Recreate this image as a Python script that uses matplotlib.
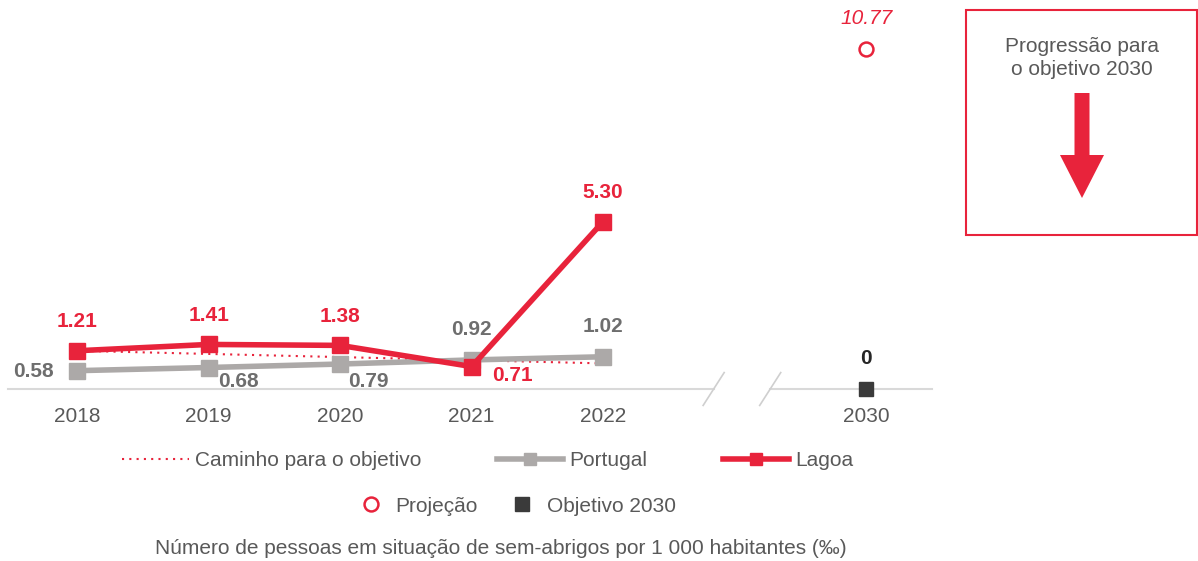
import matplotlib.pyplot as plt
from matplotlib.patches import Rectangle, FancyArrow

plt.rcParams['font.family'] = ['Liberation Sans', 'DejaVu Sans']

# data
years = ["2018", "2019", "2020", "2021", "2022"]
portugal = [0.58, 0.68, 0.79, 0.92, 1.02]
lagoa = [1.21, 1.41, 1.38, 0.71, 5.30]
caminho = [1.21, 1.11, 1.01, 0.91, 0.81]
target_year = "2030"
projecao = 10.77
objetivo = 0

RED = "#E8233B"
GREY = "#ACA9A8"
TXT = "#595959"
LBL = "#6E6E6E"
FS = 15

fig = plt.figure(figsize=(11.98, 5.61), dpi=100)
ax = fig.add_axes([8 / 1198, 1 - 389 / 561, 924 / 1198, 389 / 561])
ax.set_xlim(-0.525, 6.5)
ax.set_ylim(0, 389 / 31.6)
ax.axis("off")

x = list(range(len(years)))
x30 = 6

# baseline with axis break
ax.plot([-0.525, 4.84], [0, 0], color="#D9D9D9", lw=1.5, clip_on=False, zorder=1)
ax.plot([5.27, 6.5], [0, 0], color="#D9D9D9", lw=1.5, clip_on=False, zorder=1)
for bx in (4.84, 5.27):
    ax.plot([bx - 0.08, bx + 0.08], [-0.52, 0.52], color="#CFCFCF", lw=1.2, clip_on=False)

l_cam, = ax.plot(x, caminho, color=RED, ls=(0, (1, 2.5)), lw=1.5, zorder=2)
l_pt, = ax.plot(x, portugal, color=GREY, lw=4, marker="s", ms=11, zorder=3)
l_lg, = ax.plot(x, lagoa, color=RED, lw=4, marker="s", ms=11, zorder=4)
l_pj, = ax.plot([x30], [projecao], ls="none", marker="o", ms=10, mfc="white",
                mec=RED, mew=1.8, clip_on=False)
l_ob, = ax.plot([x30], [objetivo], ls="none", marker="s", ms=10, color="#3A3A3A",
                clip_on=False, zorder=5)

# tick labels
for xi, yr in zip(x + [x30], years + [target_year]):
    ax.annotate(yr, (xi, 0), xytext=(0, -27), textcoords="offset pixels",
                ha="center", va="center", fontsize=FS, color=TXT)

# value labels
for xi, v in zip(x, lagoa):
    off = (41, -9) if v == 0.71 else (0, 29)
    ax.annotate(f"{v:.2f}", (xi, v), xytext=off, textcoords="offset pixels",
                ha="center", va="center", fontsize=FS, fontweight="bold", color=RED)
pt_off = [(-44, -1), (30, -14), (28, -17), (0, 30), (0, 30)]
for xi, v, off in zip(x, portugal, pt_off):
    ax.annotate(f"{v:.2f}", (xi, v), xytext=off, textcoords="offset pixels",
                ha="center", va="center", fontsize=FS, fontweight="bold", color=LBL)
ax.annotate(f"{projecao:.2f}", (x30, projecao), xytext=(0, 30), textcoords="offset pixels",
            ha="center", va="center", fontsize=FS, fontstyle="italic", color=RED)
ax.annotate(f"{objetivo}", (x30, objetivo), xytext=(0, 31), textcoords="offset pixels",
            ha="center", va="center", fontsize=FS, fontweight="bold", color="#262626")

# legends
leg1 = fig.legend([l_cam, l_pt, l_lg], ["Caminho para o objetivo", "Portugal", "Lagoa"],
                  loc="center", bbox_to_anchor=(488 / 1198, 1 - 461 / 561), ncol=3,
                  frameon=False, fontsize=FS, handlelength=3.2, handletextpad=0.3,
                  columnspacing=3.6, numpoints=1, labelcolor=TXT)
for h in leg1.legend_handles[1:]:
    h.set_markersize(8)
fig.legend([l_pj, l_ob], ["Projeção", "Objetivo 2030"], loc="center",
           bbox_to_anchor=(518 / 1198, 1 - 506 / 561), ncol=2, frameon=False,
           fontsize=FS, handlelength=1.0, handletextpad=0.7, columnspacing=1.6,
           labelcolor=TXT)

fig.text(501 / 1198, 1 - 548 / 561,
         "Número de pessoas em situação de sem-abrigos por 1 000 habitantes (‰)",
         ha="center", va="center", fontsize=FS, color=TXT)

# right box
fig.patches.append(Rectangle((966 / 1198, 1 - 235 / 561), 231 / 1198, 225 / 561,
                             transform=fig.transFigure, fill=False, ec=RED, lw=1.5))
fig.text(1082 / 1198, 1 - 58 / 561, "Progressão para\no objetivo 2030", ha="center",
         va="center", fontsize=FS, color=TXT, linespacing=1.25)
fig.patches.append(FancyArrow(1082 / 1198, 1 - 93 / 561, 0, -105 / 561, width=15 / 1198,
                              head_width=44 / 1198, head_length=43 / 561,
                              length_includes_head=True, transform=fig.transFigure,
                              color=RED, lw=0))

fig.savefig("out.png", dpi=100)
